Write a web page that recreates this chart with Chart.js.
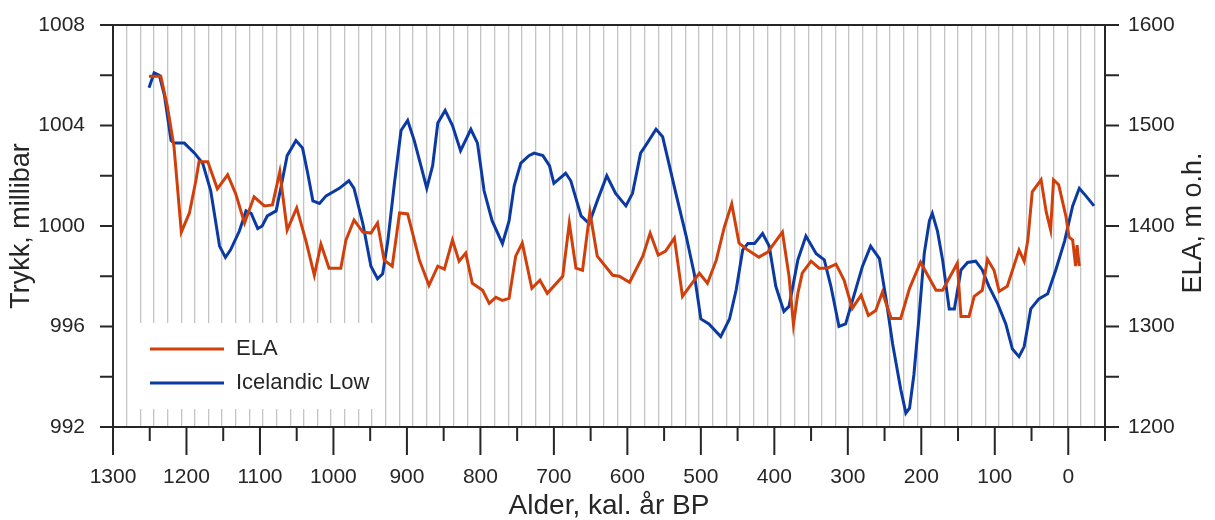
<!DOCTYPE html>
<html>
<head>
<meta charset="utf-8">
<script src="https://cdn.jsdelivr.net/npm/chart.js@4.4.1/dist/chart.umd.min.js"></script>
<style>
  html, body { margin: 0; padding: 0; background: #fff; }
</style>
</head>
<body>
<canvas id="chart" width="1215" height="520"></canvas>
<script>
// Icelandic Low (left axis, millibar)
const lowYears = [1251, 1244, 1237, 1230, 1221, 1217, 1203, 1189, 1178, 1167, 1155, 1147, 1140, 1128, 1119, 1112, 1103, 1097, 1090, 1078,
  1071, 1063, 1051, 1042, 1035, 1028, 1019, 1010, 992, 979, 972, 960, 949, 940, 933, 926, 917, 908, 899, 890,
  881, 873, 865, 858, 848, 838, 827, 813, 804, 795, 784, 770, 761, 754, 745, 734, 727, 715, 706, 700,
  684, 677, 663, 652, 641, 628, 616, 602, 593, 582, 573, 561, 552, 534, 520, 509, 500, 489, 473, 461,
  452, 443, 436, 427, 416, 407, 398, 387, 380, 368, 357, 343, 332, 323, 312, 303, 291, 280, 269, 257,
  248, 239, 228, 221, 216, 210, 203, 196, 189, 185, 178, 171, 162, 155, 146, 137, 126, 117, 108, 96,
  85, 76, 67, 60, 51, 40, 28, 17, 5, -6, -15, -24, -35];
const lowValues = [1005.5, 1006.1, 1006.0, 1005.2, 1003.4, 1003.3, 1003.3, 1002.9, 1002.5, 1001.4, 999.2, 998.75, 999.05, 999.8, 1000.6, 1000.5, 999.9, 1000.0, 1000.4, 1000.6,
  1001.6, 1002.8, 1003.4, 1003.1, 1002.1, 1001.0, 1000.9, 1001.2, 1001.5, 1001.8, 1001.5, 1000.1, 998.4, 997.9, 998.1, 999.4, 1001.7, 1003.8, 1004.2, 1003.4,
  1002.4, 1001.5, 1002.4, 1004.1, 1004.6, 1004.0, 1003.0, 1003.85, 1003.3, 1001.4, 1000.2, 999.3, 1000.2, 1001.6, 1002.5, 1002.8, 1002.9, 1002.8, 1002.4, 1001.7,
  1002.1, 1001.8, 1000.4, 1000.1, 1001.0, 1002.0, 1001.3, 1000.8, 1001.3, 1002.9, 1003.3, 1003.85, 1003.55, 1001.3, 999.6, 998.1, 996.3, 996.1, 995.6, 996.3,
  997.45, 999.05, 999.3, 999.3, 999.7, 999.2, 997.6, 996.6, 996.8, 998.65, 999.6, 998.9, 998.65, 997.6, 996.0, 996.1, 997.3, 998.4, 999.2, 998.7,
  997.1, 995.3, 993.5, 992.55, 992.75, 994.1, 996.4, 998.9, 1000.2, 1000.5, 999.8, 998.65, 996.7, 996.7, 998.25, 998.55, 998.6, 998.25, 997.6, 996.9,
  996.1, 995.1, 994.8, 995.2, 996.7, 997.1, 997.3, 998.25, 999.4, 1000.8, 1001.5, 1001.2, 1000.8];

// ELA (right axis, m o.h.)
const elaYears = [1251, 1235, 1226, 1217, 1207, 1196, 1187, 1183, 1171, 1158, 1144, 1133, 1121, 1108, 1094, 1083, 1073, 1063, 1050, 1037,
  1026, 1017, 1006, 990, 983, 972, 960, 949, 940, 931, 920, 910, 899, 883, 870, 858, 849, 838, 829, 820,
  811, 797, 788, 779, 770, 761, 752, 743, 730, 719, 709, 688, 679, 670, 661, 651, 641, 620, 611, 597,
  579, 569, 558, 548, 536, 525, 502, 491, 479, 468, 458, 448, 436, 421, 409, 389, 380, 374, 368, 362,
  350, 339, 328, 316, 305, 294, 282, 272, 262, 253, 241, 228, 216, 201, 180, 171, 151, 146, 135, 128,
  117, 110, 101, 94, 83, 67, 60, 55, 49, 37, 30, 24, 20, 13, 3, -1, -6, -10, -12, -15];
const elaValues = [1549, 1549, 1519, 1479, 1394, 1413, 1446, 1464, 1464, 1437, 1451, 1432, 1403, 1429, 1420, 1421, 1454, 1396, 1418, 1384,
  1351, 1382, 1358, 1358, 1386, 1406, 1394, 1393, 1403, 1366, 1360, 1413, 1412, 1366, 1341, 1360, 1357, 1386, 1365, 1373,
  1343, 1336, 1323, 1329, 1326, 1328, 1370, 1383, 1338, 1346, 1333, 1350, 1403, 1358, 1356, 1414, 1370, 1351, 1350, 1344,
  1370, 1393, 1371, 1375, 1388, 1330, 1353, 1343, 1366, 1399, 1422, 1383, 1376, 1369, 1374, 1394, 1350, 1302, 1333, 1353,
  1365, 1358, 1358, 1362, 1346, 1318, 1331, 1311, 1316, 1334, 1308, 1308, 1338, 1364, 1336, 1336, 1363, 1310, 1310, 1330,
  1336, 1367, 1356, 1335, 1340, 1376, 1365, 1386, 1434, 1446, 1414, 1396, 1446, 1441, 1409, 1389, 1386, 1360, 1381, 1360];

const ageTicks = [1300, 1200, 1100, 1000, 900, 800, 700, 600, 500, 400, 300, 200, 100, 0];
const pressureTicks = [992, 996, 1000, 1004, 1008];
const elaTicks = [1200, 1300, 1400, 1500, 1600];

const FONT = "'Liberation Sans', Arial, sans-serif";
const INK = '#262626';
const RED = '#d0400c';
const BLUE = '#0b3aa2';

// background hatch of thin vertical lines
const GRID_STEP = 18.55;
const hatchYears = [];
for (let v = 1300; v > -40; v -= GRID_STEP) hatchYears.push(v);

const toPoints = (xs, ys) => xs.map((x, i) => ({ x: x, y: ys[i] }));

// fixed box sizes so the plot area sits where the original one does
const fixBox = (w, h) => s => {
  if (w !== null) s.width = w;
  if (h !== null) s.height = h;
  s.paddingTop = 0;
  s.paddingBottom = 0;
  s.paddingLeft = 0;
  s.paddingRight = 0;
};

const frame = {
  id: 'frame',
  beforeDatasetsDraw(chart) {
    const { ctx, chartArea: a } = chart;
    ctx.save();
    ctx.fillStyle = '#fff';
    ctx.fillRect(a.left + 20, a.top + 298, 246, 86);
    ctx.restore();
  },
  afterDraw(chart) {
    const { ctx, chartArea: a, scales } = chart;
    ctx.save();
    ctx.strokeStyle = INK;
    ctx.lineWidth = 2;
    ctx.beginPath();
    ctx.moveTo(a.left, a.top);
    ctx.lineTo(a.right, a.top);
    for (let v = 992; v <= 1008; v += 2) {
      const y = scales.y.getPixelForValue(v);
      ctx.moveTo(a.left - 13, y);
      ctx.lineTo(a.left, y);
    }
    for (let v = 1200; v <= 1600; v += 50) {
      const y = scales.y2.getPixelForValue(v);
      ctx.moveTo(a.right, y);
      ctx.lineTo(a.right + 14, y);
    }
    for (let v = -50; v <= 1300; v += 50) {
      const x = scales.x.getPixelForValue(v);
      ctx.moveTo(x, a.bottom);
      ctx.lineTo(x, a.bottom + (v % 100 === 0 ? 28 : 14));
    }
    ctx.stroke();

    // right axis title reads bottom to top
    ctx.fillStyle = INK;
    ctx.font = '27px ' + FONT;
    ctx.textAlign = 'center';
    ctx.textBaseline = 'middle';
    ctx.translate(scales.y2.right - 21, (a.top + a.bottom) / 2 - 3);
    ctx.rotate(-Math.PI / 2);
    ctx.fillText('ELA, m o.h.', 0, 0);
    ctx.restore();

    // legend
    ctx.save();
    ctx.font = '22px ' + FONT;
    ctx.textAlign = 'left';
    ctx.textBaseline = 'middle';
    ctx.lineWidth = 3;
    chart.data.datasets.forEach((ds, i) => {
      const y = a.top + 324 + i * 34;
      ctx.strokeStyle = ds.borderColor;
      ctx.beginPath();
      ctx.moveTo(a.left + 37, y);
      ctx.lineTo(a.left + 111, y);
      ctx.stroke();
      ctx.fillStyle = INK;
      ctx.fillText(ds.label, a.left + 123, y);
    });
    ctx.restore();
  }
};

const asText = v => String(v);

new Chart(document.getElementById('chart'), {
  type: 'line',
  data: {
    datasets: [
      {
        label: 'ELA',
        data: toPoints(elaYears, elaValues),
        yAxisID: 'y2',
        borderColor: RED,
        borderWidth: 3,
        pointRadius: 0,
        tension: 0
      },
      {
        label: 'Icelandic Low',
        data: toPoints(lowYears, lowValues),
        yAxisID: 'y',
        borderColor: BLUE,
        borderWidth: 3,
        pointRadius: 0,
        tension: 0
      }
    ]
  },
  options: {
    responsive: false,
    animation: false,
    layout: { padding: { top: 25, left: 0, right: 0, bottom: 0 } },
    plugins: { legend: { display: false }, tooltip: { enabled: false } },
    scales: {
      x: {
        type: 'linear',
        position: 'bottom',
        reverse: true,
        min: -50,
        max: 1300,
        afterBuildTicks: s => { s.ticks = ageTicks.map(v => ({ value: v })); },
        afterFit: fixBox(null, 93),
        grid: { display: true, drawOnChartArea: false, drawTicks: false },
        border: { display: true, color: INK, width: 2 },
        ticks: { padding: 38, color: INK, font: { family: FONT, size: 21 }, maxRotation: 0, autoSkip: false, callback: asText },
        title: { display: true, text: 'Alder, kal. år BP', color: INK, font: { family: FONT, size: 28, lineHeight: 1 }, padding: { top: 0, bottom: 0 } }
      },
      xg: {
        type: 'linear',
        position: 'top',
        reverse: true,
        min: -50,
        max: 1300,
        afterBuildTicks: s => { s.ticks = hatchYears.map(v => ({ value: v })); },
        afterFit: fixBox(null, 0),
        grid: { color: '#c4c4c4', lineWidth: 1.3, drawTicks: false },
        border: { display: false },
        ticks: { display: false }
      },
      y: {
        type: 'linear',
        position: 'left',
        min: 992,
        max: 1008,
        afterBuildTicks: s => { s.ticks = pressureTicks.map(v => ({ value: v })); },
        afterFit: fixBox(113, null),
        grid: { display: true, drawOnChartArea: false, drawTicks: false },
        border: { display: true, color: INK, width: 2 },
        ticks: { padding: 28, color: INK, font: { family: FONT, size: 21 }, callback: asText },
        title: { display: true, text: 'Trykk, millibar', color: INK, font: { family: FONT, size: 27, lineHeight: 1 }, padding: { top: 8, bottom: 0 } }
      },
      y2: {
        type: 'linear',
        position: 'right',
        min: 1200,
        max: 1600,
        afterBuildTicks: s => { s.ticks = elaTicks.map(v => ({ value: v })); },
        afterFit: fixBox(110, null),
        grid: { display: true, drawOnChartArea: false, drawTicks: false },
        border: { display: true, color: INK, width: 2 },
        ticks: { padding: 23, color: INK, font: { family: FONT, size: 21 }, callback: asText }
      }
    }
  },
  plugins: [frame]
});
</script>
</body>
</html>
